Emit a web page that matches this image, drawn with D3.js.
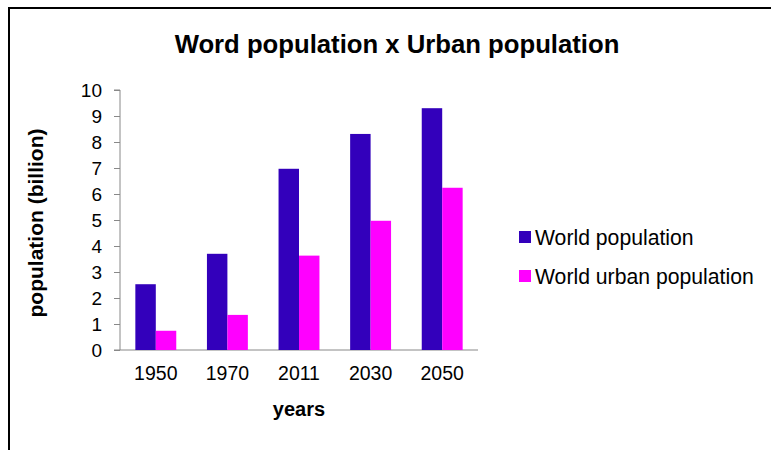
<!DOCTYPE html>
<html>
<head>
<meta charset="utf-8">
<script src="https://cdn.jsdelivr.net/npm/d3@7"></script>
<style>
  body { margin: 0; background: #fff; }
  svg { display: block; font-family: "Liberation Sans", Arial, sans-serif; }
</style>
</head>
<body>
<div id="chart"></div>
<script>
// chart data
const years = ["1950", "1970", "2011", "2030", "2050"];
const worldPop = [2.53, 3.7, 6.97, 8.31, 9.3];
const urbanPop = [0.74, 1.35, 3.63, 4.97, 6.24];
const seriesNames = ["World population", "World urban population"];
const seriesColors = ["#3300bb", "#ff00ff"];
const yTicks = [0, 1, 2, 3, 4, 5, 6, 7, 8, 9, 10];

const svgWidth = 771;
const svgHeight = 450;

const plot = { left: 120, right: 478, top: 90, bottom: 350 };

const svg = d3.select("#chart")
  .append("svg")
  .attr("width", svgWidth)
  .attr("height", svgHeight);

// outer frame, runs off the right and bottom edge
svg.append("rect")
  .attr("x", 9)
  .attr("y", 8)
  .attr("width", 800)
  .attr("height", 500)
  .attr("fill", "none")
  .attr("stroke", "#000")
  .attr("stroke-width", 2);

svg.append("text")
  .attr("x", 397)
  .attr("y", 53)
  .attr("text-anchor", "middle")
  .attr("font-size", "25.7px")
  .attr("font-weight", "bold")
  .text("Word population x Urban population");

const x0 = d3.scaleBand()
  .domain(years)
  .range([plot.left, plot.right]);

// two bars per group, gap width 150%
const barW = x0.bandwidth() / 3.5;
const x1 = d3.scaleBand()
  .domain([0, 1])
  .range([0, barW * 2]);

const y = d3.scaleLinear()
  .domain([0, 10])
  .range([plot.bottom, plot.top]);

// y axis
const yAxis = svg.append("g")
  .attr("transform", `translate(${plot.left},0)`)
  .call(d3.axisLeft(y).tickValues(yTicks).tickSize(6).tickPadding(12).tickFormat(d3.format("d")));
yAxis.select(".domain").attr("stroke", "#888").attr("d", `M-6,${plot.top}H0V${plot.bottom}`);
yAxis.selectAll(".tick line").attr("stroke", "#888");
yAxis.selectAll(".tick text")
  .attr("font-size", "19px")
  .attr("font-family", "Liberation Sans, Arial, sans-serif")
  .attr("fill", "#000");

// x axis
const xAxis = svg.append("g")
  .attr("transform", `translate(0,${plot.bottom})`)
  .call(d3.axisBottom(x0).tickSize(0).tickPadding(16));
xAxis.select(".domain").attr("stroke", "#888").attr("d", `M${plot.left - 6},0H${plot.right}`);
xAxis.selectAll(".tick text")
  .attr("font-size", "19.5px")
  .attr("font-family", "Liberation Sans, Arial, sans-serif")
  .attr("fill", "#000");

// bars
const groups = svg.append("g")
  .selectAll("g")
  .data(years)
  .join("g")
  .attr("transform", d => `translate(${x0(d) + (x0.bandwidth() - barW * 2) / 2},0)`);

groups.selectAll("rect")
  .data((d, i) => [worldPop[i], urbanPop[i]])
  .join("rect")
  .attr("x", (d, j) => x1(j))
  .attr("y", d => y(d))
  .attr("width", x1.bandwidth())
  .attr("height", d => y(0) - y(d))
  .attr("fill", (d, j) => seriesColors[j]);

// axis titles
svg.append("text")
  .attr("x", 299)
  .attr("y", 416)
  .attr("text-anchor", "middle")
  .attr("font-size", "20px")
  .attr("font-weight", "bold")
  .text("years");

svg.append("text")
  .attr("transform", "translate(43,223) rotate(-90)")
  .attr("text-anchor", "middle")
  .attr("font-size", "21px")
  .attr("font-weight", "bold")
  .text("population (billion)");

// legend
const legend = svg.append("g")
  .selectAll("g")
  .data(seriesNames)
  .join("g")
  .attr("transform", (d, i) => `translate(519,${231 + i * 39})`);

legend.append("rect")
  .attr("width", 12)
  .attr("height", 12)
  .attr("fill", (d, i) => seriesColors[i]);

legend.append("text")
  .attr("x", 16)
  .attr("y", 14)
  .attr("font-size", "21.2px")
  .text(d => d);
</script>
</body>
</html>
